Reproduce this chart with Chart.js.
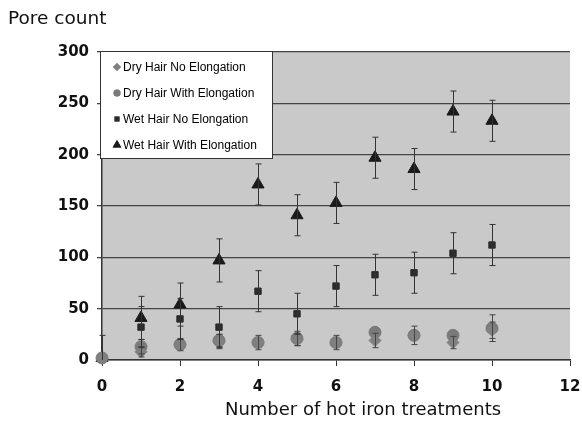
<!DOCTYPE html>
<html>
<head>
<meta charset="utf-8">
<script src="https://cdn.jsdelivr.net/npm/chart.js@4.4.0/dist/chart.umd.min.js"></script>
<style>
  html, body { margin: 0; padding: 0; background: #fff; }
  #wrap { width: 582px; height: 424px; }
</style>
</head>
<body>
<div id="wrap"><canvas id="chart" width="582" height="424"></canvas></div>
<script>
const treatments = [0, 1, 2, 3, 4, 5, 6, 7, 8, 9, 10];
const xTicks = [0, 2, 4, 6, 8, 10, 12];
const yTicks = [0, 50, 100, 150, 200, 250, 300];
const xTitle = "Number of hot iron treatments";
const yTitle = "Pore count";

const dryNoElong = [2, 8, 15, 18, 17, 20, 17, 19, 24, 17, 29];
const dryNoElongErr = [0, 5, 6, 7, 7, 6, 7, 7, 9, 6, 8];
const dryWithElong = [2, 13, 15, 19, 17, 21, 17, 27, 24, 24, 31];
const dryWithElongErr = [0, 7, 0, 6, 0, 7, 0, 0, 0, 0, 13];
const wetNoElong = [2, 32, 40, 32, 67, 45, 72, 83, 85, 104, 112];
const wetNoElongErr = [22, 20, 20, 20, 20, 20, 20, 20, 20, 20, 20];
const wetWithElong = [2, 41, 54, 97, 171, 141, 153, 197, 186, 242, 233];
const wetWithElongErr = [0, 21, 21, 21, 20, 20, 20, 20, 20, 20, 20];

function pts(vals, errs) {
  return treatments.map((t, i) => ({ x: t, y: vals[i], e: errs[i] }));
}

const errorBars = {
  id: "errorBars",
  afterDatasetsDraw(chart) {
    const { ctx, chartArea, scales } = chart;
    ctx.save();
    chart.data.datasets.forEach((ds) => {
      ctx.strokeStyle = ds.errColor;
      ctx.lineWidth = 1;
      ds.data.forEach((p) => {
        if (!p.e) return;
        const x = Math.round(scales.x.getPixelForValue(p.x)) + 0.5;
        const y1 = scales.y.getPixelForValue(p.y + p.e);
        const y2 = Math.min(scales.y.getPixelForValue(p.y - p.e), chartArea.bottom);
        ctx.beginPath();
        ctx.moveTo(x, y1); ctx.lineTo(x, y2);
        ctx.moveTo(x - 3, y1); ctx.lineTo(x + 3, y1);
        if (p.y - p.e > 0) { ctx.moveTo(x - 3, y2); ctx.lineTo(x + 3, y2); }
        ctx.stroke();
      });
    });
    ctx.restore();
  },
};

const plotBg = {
  id: "plotBg",
  beforeDraw(chart) {
    const { ctx, chartArea } = chart;
    ctx.save();
    ctx.fillStyle = "#c9c9c9";
    ctx.fillRect(chartArea.left, chartArea.top, chartArea.right - chartArea.left, chartArea.bottom - chartArea.top);
    ctx.restore();
  },
};

const extras = {
  id: "extras",
  afterDraw(chart) {
    const { ctx } = chart;
    ctx.save();
    ctx.fillStyle = "#111";
    ctx.textBaseline = "middle";
    ctx.font = "18.5px 'DejaVu Sans', sans-serif";
    ctx.fillText(yTitle, 8, 19);
    ctx.textAlign = "center";
    ctx.font = "18px 'DejaVu Sans', sans-serif";
    ctx.fillText(xTitle, 363, 410);
    ctx.textAlign = "left";

    // legend box
    ctx.fillStyle = "#fff";
    ctx.fillRect(100, 51, 172, 107);
    ctx.strokeStyle = "#333";
    ctx.lineWidth = 1;
    ctx.strokeRect(100.5, 51.5, 172, 107);
    const rowY = [67, 93, 119, 145];
    ctx.font = "12px 'Liberation Sans', Arial, sans-serif";
    chart.data.datasets.forEach((ds, i) => {
      const y = rowY[i];
      ctx.fillStyle = ds.backgroundColor;
      ctx.strokeStyle = ds.backgroundColor;
      Chart.helpers.drawPoint(ctx, {
        pointStyle: ds.pointStyle,
        radius: ds.legendRadius,
        borderWidth: 0,
        rotation: 0,
      }, 117, y);
      ctx.fill();
      ctx.fillStyle = "#000";
      ctx.fillText(ds.label, 123, y + 0.5);
    });
    ctx.restore();
  },
};

new Chart(document.getElementById("chart"), {
  type: "scatter",
  data: {
    datasets: [
      {
        label: "Dry Hair No Elongation",
        data: pts(dryNoElong, dryNoElongErr),
        pointStyle: "rectRot",
        pointRadius: 6,
        legendRadius: 4,
        backgroundColor: "#808080",
        borderColor: "#808080",
        errColor: "#444",
        clip: false,
      },
      {
        label: "Dry Hair With Elongation",
        data: pts(dryWithElong, dryWithElongErr),
        pointStyle: "circle",
        pointRadius: 6,
        legendRadius: 3.5,
        backgroundColor: "#7a7a7a",
        borderColor: "#7a7a7a",
        errColor: "#444",
        clip: false,
      },
      {
        label: "Wet Hair No Elongation",
        data: pts(wetNoElong, wetNoElongErr),
        pointStyle: "rect",
        pointRadius: 4.5,
        legendRadius: 3.5,
        backgroundColor: "#2b2b2b",
        borderColor: "#2b2b2b",
        errColor: "#333",
        clip: false,
      },
      {
        label: "Wet Hair With Elongation",
        data: pts(wetWithElong, wetWithElongErr),
        pointStyle: "triangle",
        pointRadius: 7,
        legendRadius: 5,
        backgroundColor: "#1a1a1a",
        borderColor: "#1a1a1a",
        errColor: "#333",
        clip: false,
      },
    ],
  },
  options: {
    responsive: false,
    animation: false,
    layout: { padding: { top: 52, right: 12, left: 0, bottom: 0 } },
    plugins: {
      legend: { display: false },
      tooltip: { enabled: false },
    },
    scales: {
      x: {
        type: "linear",
        min: 0,
        max: 12,
        afterBuildTicks: (s) => { s.ticks = xTicks.map((v) => ({ value: v })); },
        afterFit: (s) => { s.height = 64; s.paddingRight = 0; s.paddingLeft = 0; },
        grid: { display: true, drawOnChartArea: false, drawTicks: true, tickLength: 6, color: "#333" },
        border: { color: "#333", width: 1.5 },
        ticks: {
          color: "#111",
          padding: 12,
          font: { family: "'DejaVu Sans', sans-serif", size: 15, weight: "bold" },
        },
      },
      y: {
        min: 0,
        max: 300,
        afterBuildTicks: (s) => { s.ticks = yTicks.map((v) => ({ value: v })); },
        afterFit: (s) => { s.width = 102; s.paddingTop = 0; s.paddingBottom = 0; },
        grid: { color: "#444", lineWidth: 1.3, tickLength: 5 },
        border: { color: "#333", width: 1.5 },
        ticks: {
          color: "#111",
          padding: 8,
          font: { family: "'DejaVu Sans', sans-serif", size: 15, weight: "bold" },
        },
      },
    },
  },
  plugins: [plotBg, errorBars, extras],
});
</script>
</body>
</html>
